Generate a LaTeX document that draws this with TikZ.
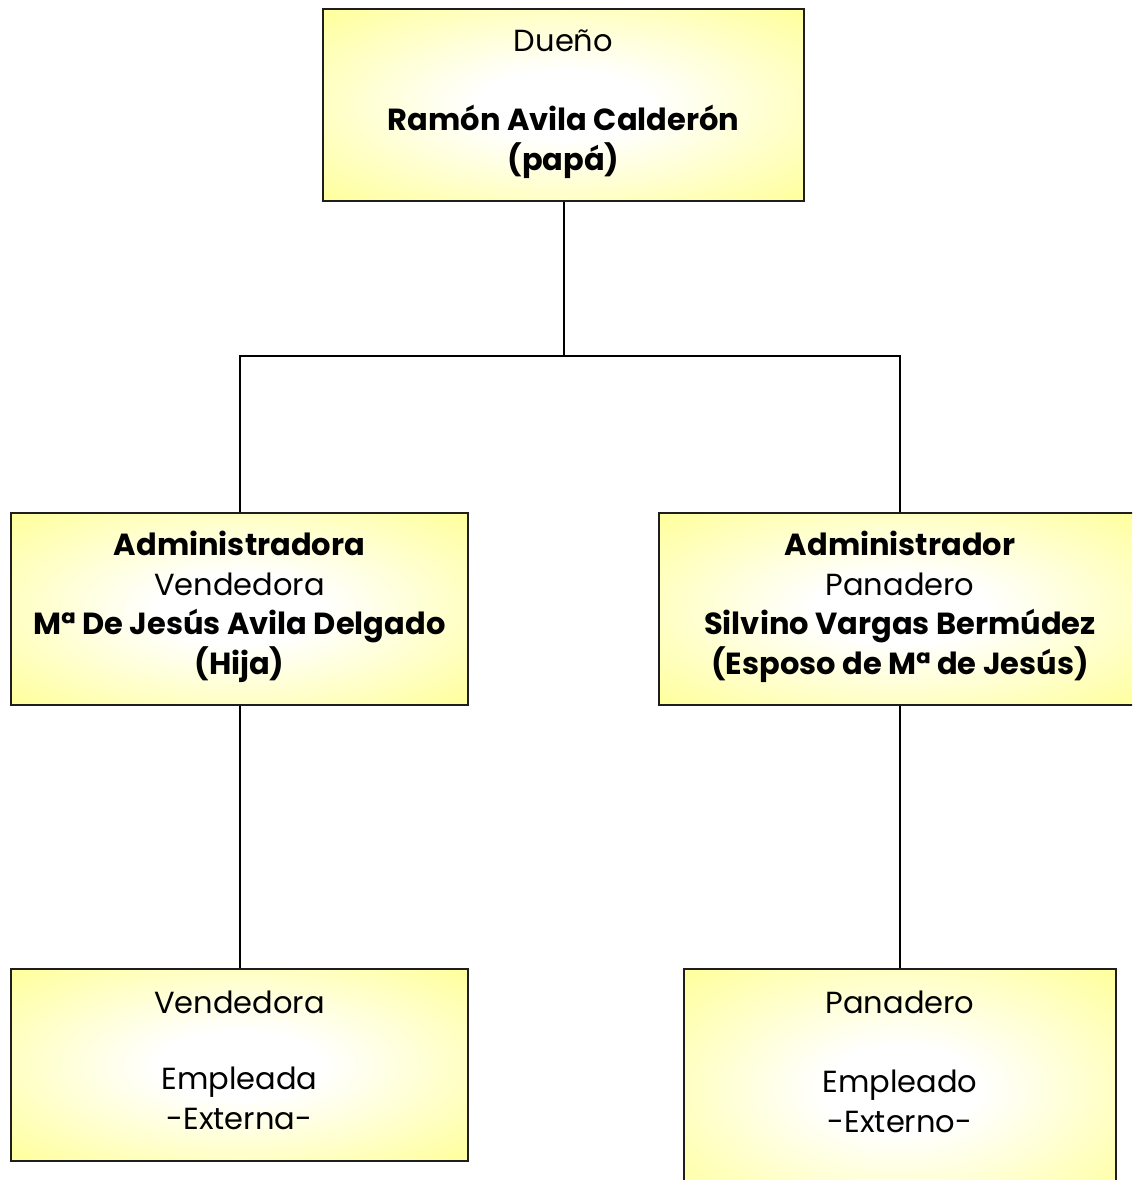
\documentclass[tikz,border=0pt]{standalone}
\usepackage{fontspec}
\setmainfont{Poppins}
\definecolor{boxyellow}{RGB}{255,255,153}
\definecolor{boxline}{RGB}{30,30,30}
% soft white glow in the middle of each box, fading to pale yellow
\pgfdeclareradialshading{boxglow}{\pgfpoint{0bp}{0bp}}{%
  color(0bp)=(white); color(9bp)=(white); color(36bp)=(boxyellow); color(50bp)=(boxyellow)}
\tikzset{
  orgbox/.style={rectangle, draw=boxline, line width=1.8pt, shade, shading=boxglow, inner sep=0pt},
  orgtext/.style={align=center, inner sep=0pt, text=black, font=\fontsize{30.5}{39.5}\selectfont},
  link/.style={line width=2pt, black},
}
\begin{document}
\begin{tikzpicture}[x=1pt, y=-1pt]
  \useasboundingbox (0,0) rectangle (1132,1180);
  \begin{scope}
    \clip (0,0) rectangle (1132,1180);

    % boxes
    \node[orgbox, minimum width=481pt, minimum height=192pt] (owner) at (563.5,105) {};
    \node[orgbox, minimum width=457pt, minimum height=192pt] (admA) at (239.5,609) {};
    \node[orgbox, minimum width=482pt, minimum height=192pt] (admB) at (900,609) {};
    \node[orgbox, minimum width=457pt, minimum height=192pt] (empA) at (239.5,1065) {};
    \node[orgbox, minimum width=432pt, minimum height=240pt] (empB) at (900,1089) {};

    % texts
    \node[orgtext] (ownerT) at (563.5,104) {Dueño\\[39.5pt]\textbf{Ramón Avila Calderón}\\\textbf{(papá)}};
    \node[orgtext] (admAT) at (239.5,607) {\textbf{Administradora}\\Vendedora\\\textbf{Mª De Jesús Avila Delgado}\\\textbf{(Hija)}};
    \node[orgtext] (admBT) at (900,607) {\textbf{Administrador}\\Panadero\\\textbf{Silvino Vargas Bermúdez}\\\textbf{(Esposo de Mª de Jesús)}};
    \node[orgtext] (empAT) at (239.5,1060) {Vendedora\\[37pt]Empleada\\-Externa-};
    \node[orgtext] (empBT) at (900,1061.5) {Panadero\\[40pt]Empleado\\-Externo-};

    % connectors
    \coordinate (split) at (563.5,356);
    \draw[link] (owner.south) -- (split);
    \draw[link] (admA.north) |- (split) -| (admB.north);
    \draw[link] (admA.south) -- (empA.north);
    \draw[link] (admB.south) -- (empB.north);
  \end{scope}
\end{tikzpicture}
\end{document}
